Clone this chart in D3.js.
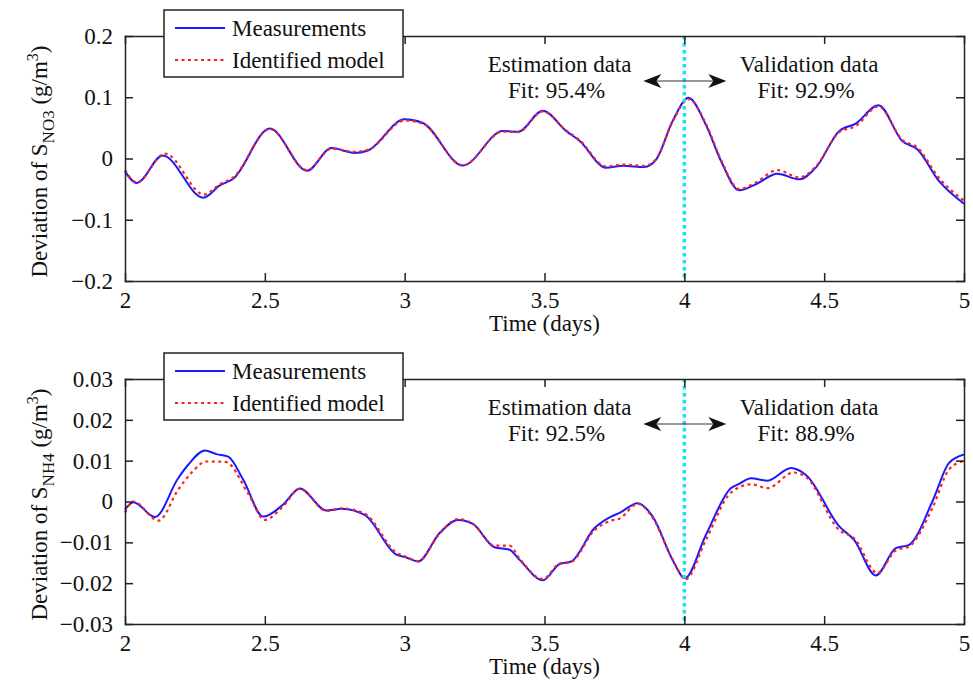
<!DOCTYPE html>
<html>
<head>
<meta charset="utf-8">
<script src="https://cdn.jsdelivr.net/npm/d3@7"></script>
<style>
	body { margin: 0; background: #fff; }
	text { font-family: "Liberation Serif", "Times New Roman", serif; fill: #111; }
</style>
</head>
<body>
<div id="chart"></div>
<script>
//Data

// top panel, S_NO3
const no3MeasT = [2.0, 2.042, 2.135, 2.28, 2.339, 2.387, 2.518, 2.651, 2.738, 2.821, 2.869, 3.0, 3.065, 3.208, 3.351, 3.405, 3.494, 3.577, 3.625, 3.72, 3.78, 3.857, 3.899, 3.958, 4.015, 4.077, 4.131, 4.196, 4.256, 4.333, 4.411, 4.47, 4.554, 4.613, 4.694, 4.78, 4.833, 4.911, 5.0];
const no3Meas = [-0.021, -0.040, 0.005, -0.064, -0.044, -0.033, 0.049, -0.020, 0.017, 0.009, 0.013, 0.064, 0.058, -0.0115, 0.045, 0.0435, 0.078, 0.045, 0.029, -0.015, -0.012, -0.014, -0.002, 0.061, 0.099, 0.055, -0.004, -0.052, -0.042, -0.025, -0.034, -0.015, 0.045, 0.057, 0.087, 0.028, 0.015, -0.037, -0.074];
const no3ModelT = [2.0, 2.042, 2.143, 2.283, 2.339, 2.387, 2.518, 2.651, 2.738, 2.821, 2.869, 3.0, 3.065, 3.208, 3.351, 3.405, 3.494, 3.577, 3.625, 3.72, 3.78, 3.857, 3.899, 3.958, 4.015, 4.077, 4.131, 4.196, 4.256, 4.333, 4.411, 4.47, 4.554, 4.613, 4.694, 4.78, 4.833, 4.911, 5.0];
const no3Model = [-0.019, -0.039, 0.008, -0.059, -0.042, -0.031, 0.048, -0.019, 0.016, 0.011, 0.014, 0.062, 0.057, -0.011, 0.044, 0.043, 0.077, 0.046, 0.030, -0.013, -0.010, -0.012, -0.001, 0.060, 0.097, 0.057, -0.002, -0.050, -0.039, -0.019, -0.031, -0.013, 0.043, 0.053, 0.085, 0.030, 0.018, -0.032, -0.069];

// bottom panel, S_NH4
const nh4MeasT = [2.0, 2.03, 2.107, 2.19, 2.226, 2.286, 2.327, 2.369, 2.423, 2.494, 2.565, 2.625, 2.72, 2.774, 2.857, 2.97, 3.006, 3.048, 3.125, 3.19, 3.244, 3.321, 3.375, 3.411, 3.494, 3.554, 3.595, 3.679, 3.738, 3.768, 3.833, 3.887, 3.958, 4.002, 4.077, 4.167, 4.196, 4.238, 4.298, 4.381, 4.435, 4.554, 4.607, 4.685, 4.756, 4.804, 4.887, 4.946, 5.0];
const nh4Meas = [-0.002, -0.0002, -0.0038, 0.0057, 0.009, 0.0125, 0.0116, 0.011, 0.0053, -0.0037, -0.0008, 0.0032, -0.0022, -0.0018, -0.0033, -0.013, -0.0137, -0.0147, -0.0077, -0.0045, -0.0055, -0.0112, -0.0118, -0.0143, -0.0193, -0.0153, -0.0147, -0.0065, -0.0037, -0.0028, -0.0004, -0.0037, -0.0143, -0.0188, -0.0082, 0.0033, 0.0043, 0.0057, 0.0051, 0.0082, 0.0065, -0.0061, -0.0094, -0.0181, -0.0114, -0.0106, 0.0, 0.0094, 0.0115];
const nh4ModelT = [2.0, 2.03, 2.12, 2.19, 2.24, 2.29, 2.36, 2.44, 2.5, 2.565, 2.625, 2.72, 2.774, 2.857, 2.97, 3.006, 3.048, 3.125, 3.19, 3.244, 3.321, 3.375, 3.411, 3.494, 3.554, 3.595, 3.679, 3.738, 3.768, 3.833, 3.887, 3.958, 4.005, 4.077, 4.167, 4.238, 4.298, 4.39, 4.435, 4.554, 4.607, 4.69, 4.756, 4.804, 4.887, 4.946, 5.0];
const nh4Model = [-0.0027, 0.0, -0.0047, 0.0029, 0.0072, 0.0098, 0.0097, 0.002, -0.0045, -0.0012, 0.0031, -0.0023, -0.0017, -0.0030, -0.0125, -0.0136, -0.0146, -0.0079, -0.0043, -0.0055, -0.0108, -0.0108, -0.0140, -0.0190, -0.0152, -0.0148, -0.0070, -0.0047, -0.0042, -0.0006, -0.0040, -0.0142, -0.0190, -0.0094, 0.0022, 0.0042, 0.0033, 0.0071, 0.0060, -0.0070, -0.0090, -0.0175, -0.0120, -0.0110, -0.0016, 0.0078, 0.0100];

// ticks and labels
const timeTicks = [2, 2.5, 3, 3.5, 4, 4.5, 5];
const no3Ticks = [-0.2, -0.1, 0, 0.1, 0.2];
const nh4Ticks = [-0.03, -0.02, -0.01, 0, 0.01, 0.02, 0.03];
const legendNames = ["Measurements", "Identified model"];
const splitDay = 4;
const no3Fits = ["Fit: 95.4%", "Fit: 92.9%"];
const nh4Fits = ["Fit: 92.5%", "Fit: 88.9%"];

//Layout
const width = 973, height = 683;
const left = 125, right = 964;
const blue = "#1a1aff", red = "#ff2020", cyan = "#19e3ee", axisCol = "#222";

let svg = d3.select("#chart").append("svg")
	.attr("width", width)
	.attr("height", height);

let x = d3.scaleLinear().domain([2, 5]).range([left, right]);

let zip = function(ts, vs) {
	return ts.map(function(t, i) { return [t, vs[i]]; });
};

let drawPanel = function(cfg) {
	let y = d3.scaleLinear().domain(cfg.domain).range([cfg.bottom, cfg.top]);
	let g = svg.append("g");
	let fmt = function(d) { return d === 0 ? "0" : d3.format(cfg.fmt)(d); };

	let line = d3.line()
		.x(function(d) { return x(d[0]); })
		.y(function(d) { return y(d[1]); })
		.curve(d3.curveMonotoneX);

	// measurements and model
	g.append("path")
		.datum(zip(cfg.measT, cfg.meas))
		.attr("d", line)
		.attr("fill", "none")
		.attr("stroke", blue)
		.attr("stroke-width", 2);
	g.append("path")
		.datum(zip(cfg.modelT, cfg.model))
		.attr("d", line)
		.attr("fill", "none")
		.attr("stroke", red)
		.attr("stroke-width", 2.2)
		.attr("stroke-dasharray", "3,3.5");

	// split line at day 4
	g.append("line")
		.attr("x1", x(splitDay)).attr("x2", x(splitDay))
		.attr("y1", cfg.top).attr("y2", cfg.bottom)
		.attr("stroke", cyan)
		.attr("stroke-width", 3.5)
		.attr("stroke-dasharray", "3.5,3.5");

	// axes, MATLAB-style box with inward ticks
	let axStyle = function(sel) {
		sel.selectAll("path, line").attr("stroke", axisCol).attr("stroke-width", 1.5);
		sel.selectAll("text").attr("font-size", 23).attr("fill", "#111")
			.style("font-family", "'Liberation Serif', serif");
	};
	g.append("g").attr("transform", "translate(" + left + ",0)")
		.call(d3.axisLeft(y).tickValues(cfg.ticks).tickFormat(fmt).tickSizeInner(-8).tickSizeOuter(0).tickPadding(12))
		.call(axStyle);
	g.append("g").attr("transform", "translate(" + right + ",0)")
		.call(d3.axisRight(y).tickValues(cfg.ticks).tickFormat("").tickSizeInner(-8).tickSizeOuter(0))
		.call(axStyle);
	g.append("g").attr("transform", "translate(0," + cfg.bottom + ")")
		.call(d3.axisBottom(x).tickValues(timeTicks).tickFormat(function(d) { return String(d); }).tickSizeInner(-8).tickSizeOuter(0).tickPadding(11))
		.call(axStyle);
	g.append("g").attr("transform", "translate(0," + cfg.top + ")")
		.call(d3.axisTop(x).tickValues(timeTicks).tickFormat("").tickSizeInner(-8).tickSizeOuter(0))
		.call(axStyle);
	g.selectAll(".domain").attr("stroke-linecap", "square");

	// axis titles
	g.append("text")
		.attr("x", (left + right) / 2)
		.attr("y", cfg.bottom + 50)
		.attr("text-anchor", "middle")
		.attr("font-size", 23)
		.text("Time (days)");

	let yl = g.append("text")
		.attr("transform", "translate(47," + ((cfg.top + cfg.bottom) / 2 + 3) + ") rotate(-90)")
		.attr("text-anchor", "middle")
		.attr("font-size", 23);
	yl.append("tspan").text("Deviation of S");
	yl.append("tspan").attr("dy", 7).attr("font-size", 17).text(cfg.sub);
	yl.append("tspan").attr("dy", -7).text(" (g/m");
	yl.append("tspan").attr("dy", -9).attr("font-size", 16).text("3");
	yl.append("tspan").attr("dy", 9).text(")");

	// estimation / validation notes
	let notes = [["Estimation data", cfg.fits[0], -0.446], ["Validation data", cfg.fits[1], 0.446]];
	notes.forEach(function(n) {
		let cx = x(splitDay + n[2]);
		g.append("text").attr("x", cx).attr("y", cfg.top + 36)
			.attr("text-anchor", "middle").attr("font-size", 23).text(n[0]);
		g.append("text").attr("x", cx - 3).attr("y", cfg.top + 62)
			.attr("text-anchor", "middle").attr("font-size", 23).text(n[1]);
	});

	// double arrow across the split
	let ay = cfg.top + 45;
	let ax0 = x(splitDay) - 41, ax1 = x(splitDay) + 42;
	g.append("line")
		.attr("x1", ax0 + 6).attr("x2", ax1 - 6)
		.attr("y1", ay).attr("y2", ay)
		.attr("stroke", "#333").attr("stroke-width", 1.2);
	[[ax0, 1], [ax1, -1]].forEach(function(a) {
		let tx = a[0], s = a[1];
		g.append("path")
			.attr("d", "M" + tx + "," + ay +
				"L" + (tx + s * 18) + "," + (ay - 7) +
				"L" + (tx + s * 13) + "," + ay +
				"L" + (tx + s * 18) + "," + (ay + 7) + "Z")
			.attr("fill", "#111");
	});

	// legend box
	let lg = g.append("g");
	lg.append("rect")
		.attr("x", 164).attr("y", cfg.legendTop)
		.attr("width", 239).attr("height", 67)
		.attr("fill", "#fff")
		.attr("stroke", axisCol).attr("stroke-width", 1.5);
	legendNames.forEach(function(name, i) {
		let ly = cfg.legendTop + 18 + i * 32;
		lg.append("line")
			.attr("x1", 175).attr("x2", 225)
			.attr("y1", ly).attr("y2", ly)
			.attr("stroke", i === 0 ? blue : red)
			.attr("stroke-width", 2)
			.attr("stroke-dasharray", i === 0 ? null : "3,3.5");
		lg.append("text")
			.attr("x", 232).attr("y", ly + 8)
			.attr("font-size", 23)
			.text(name);
	});
};

drawPanel({
	top: 36, bottom: 281, domain: [-0.2, 0.2], ticks: no3Ticks, fmt: ".1f",
	measT: no3MeasT, meas: no3Meas, modelT: no3ModelT, model: no3Model,
	sub: "NO3", fits: no3Fits, legendTop: 10
});

drawPanel({
	top: 379, bottom: 624, domain: [-0.03, 0.03], ticks: nh4Ticks, fmt: ".2f",
	measT: nh4MeasT, meas: nh4Meas, modelT: nh4ModelT, model: nh4Model,
	sub: "NH4", fits: nh4Fits, legendTop: 353
});
</script>
</body>
</html>
